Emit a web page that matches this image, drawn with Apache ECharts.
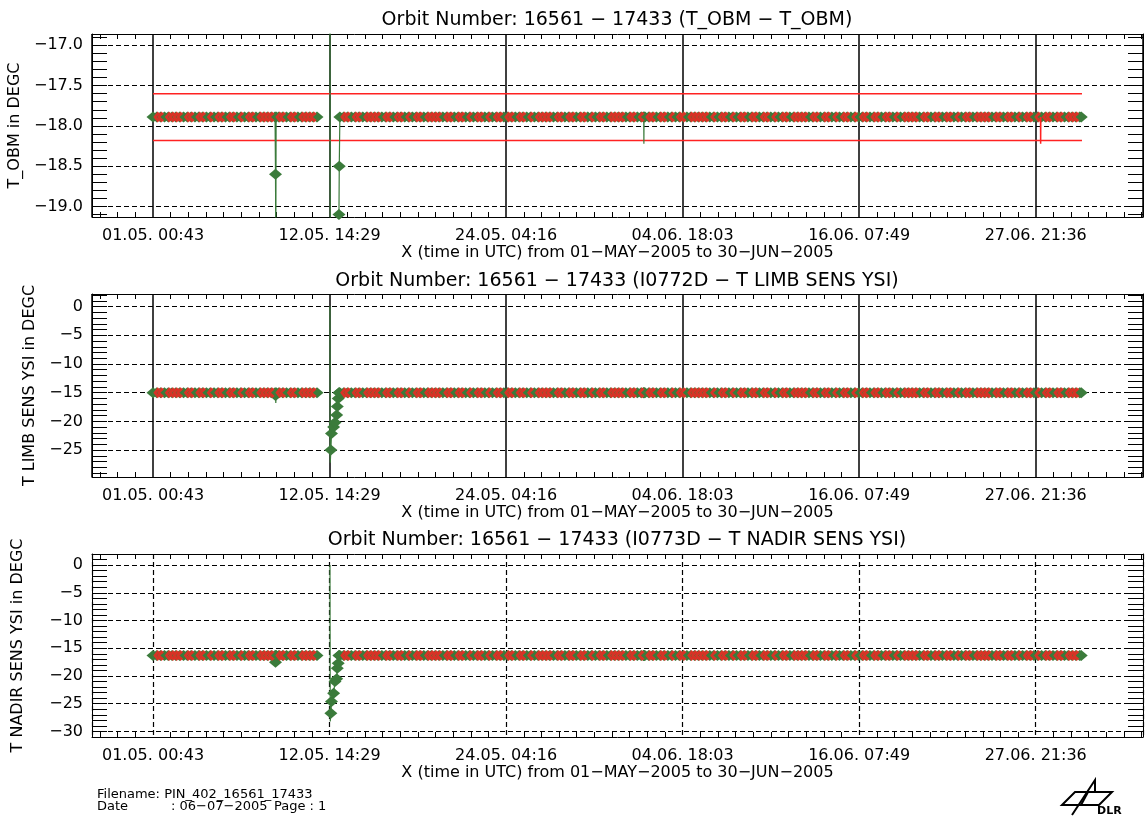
<!DOCTYPE html>
<html>
<head>
<meta charset="utf-8">
<title>Orbit Number 16561 − 17433 housekeeping temperatures</title>
<script src="https://cdn.jsdelivr.net/npm/echarts@6/dist/echarts.min.js"></script>
<style>
  html, body { margin: 0; padding: 0; background: #fff; }
  #chart { width: 1146px; height: 821px; }
</style>
</head>
<body>
<div id="chart"></div>
<script>
// ---------------------------------------------------------------------------
// Time axis: days since 01.05.2005 00:43 UTC. Major ticks every 11 d 13 h 46 m.
// ---------------------------------------------------------------------------
const TICK_DAYS = 11.5736;
const TICK_LABELS = ['01.05. 00:43', '12.05. 14:29', '24.05. 04:16', '04.06. 18:03', '16.06. 07:49', '27.06. 21:36'];

// Sample times (days since first orbit), shared by the three temperature channels
const orbitDay = [
  0.00, 0.25, 0.50, 0.75,
  1.00, 1.25, 1.50, 1.75,
  2.00, 2.25, 2.50, 2.75,
  3.00, 3.25, 3.50, 3.75,
  4.00, 4.25, 4.50, 4.75,
  5.00, 5.25, 5.50, 5.75,
  6.00, 6.25, 6.50, 6.75,
  7.00, 7.25, 7.50, 7.75,
  8.00, 8.03, 8.05, 8.07, 8.25, 8.50, 8.75,
  9.00, 9.25, 9.50, 9.75,
  10.00, 10.25, 10.50, 10.75,
  11.00, 11.60, 11.62, 11.66, 11.70, 11.84, 11.93,
  12.04, 12.08, 12.14, 12.19, 12.21, 12.25, 12.50, 12.75,
  13.00, 13.25, 13.50, 13.75,
  14.00, 14.25, 14.50, 14.75,
  15.00, 15.25, 15.50, 15.75,
  16.00, 16.25, 16.50, 16.75,
  17.00, 17.25, 17.50, 17.75,
  18.00, 18.25, 18.50, 18.75,
  19.00, 19.25, 19.50, 19.75,
  20.00, 20.25, 20.50, 20.75,
  21.00, 21.25, 21.50, 21.75,
  22.00, 22.25, 22.50, 22.75,
  23.00, 23.25, 23.50, 23.75,
  24.00, 24.25, 24.50, 24.75,
  25.00, 25.25, 25.50, 25.75,
  26.00, 26.25, 26.50, 26.75,
  27.00, 27.25, 27.50, 27.75,
  28.00, 28.25, 28.50, 28.75,
  29.00, 29.25, 29.50, 29.75,
  30.00, 30.25, 30.50, 30.75,
  31.00, 31.25, 31.50, 31.75,
  32.00, 32.17, 32.18, 32.19, 32.25, 32.50, 32.75,
  33.00, 33.25, 33.50, 33.75,
  34.00, 34.25, 34.50, 34.75,
  35.00, 35.25, 35.50, 35.75,
  36.00, 36.25, 36.50, 36.75,
  37.00, 37.25, 37.50, 37.75,
  38.00, 38.25, 38.50, 38.75,
  39.00, 39.25, 39.50, 39.75,
  40.00, 40.25, 40.50, 40.75,
  41.00, 41.25, 41.50, 41.75,
  42.00, 42.25, 42.50, 42.75,
  43.00, 43.25, 43.50, 43.75,
  44.00, 44.25, 44.50, 44.75,
  45.00, 45.25, 45.50, 45.75,
  46.00, 46.25, 46.50, 46.75,
  47.00, 47.25, 47.50, 47.75,
  48.00, 48.25, 48.50, 48.75,
  49.00, 49.25, 49.50, 49.75,
  50.00, 50.25, 50.50, 50.75,
  51.00, 51.25, 51.50, 51.75,
  52.00, 52.25, 52.50, 52.75,
  53.00, 53.25, 53.50, 53.75,
  54.00, 54.25, 54.50, 54.75,
  55.00, 55.25, 55.50, 55.75,
  56.00, 56.25, 56.50, 56.75,
  57.00, 57.25, 57.50, 57.75,
  58.00, 58.25, 58.50, 58.75,
  59.00, 59.25, 59.50, 59.75,
  60.00, 60.25, 60.50, 60.75, 60.85
];

// T_OBM [DEGC]; null = no telemetry
const tObm = [
  -17.89, -17.89, -17.89, -17.89,
  -17.89, -17.89, -17.89, -17.89,
  -17.89, -17.89, -17.89, -17.89,
  -17.89, -17.89, -17.89, -17.89,
  -17.89, -17.89, -17.89, -17.89,
  -17.89, -17.89, -17.89, -17.89,
  -17.89, -17.89, -17.89, -17.89,
  -17.89, -17.89, -17.89, -17.89,
  -17.89, -18.60, -19.60, -17.89, -17.89, -17.89, -17.89,
  -17.89, -17.89, -17.89, -17.89,
  -17.89, -17.89, -17.89, -17.89,
  null, -16.30, -19.80, null, null, null, null,
  null, null, null, -19.10, -18.50, -17.89, -17.89, -17.89,
  -17.89, -17.89, -17.89, -17.89,
  -17.89, -17.89, -17.89, -17.89,
  -17.89, -17.89, -17.89, -17.89,
  -17.89, -17.89, -17.89, -17.89,
  -17.89, -17.89, -17.89, -17.89,
  -17.89, -17.89, -17.89, -17.89,
  -17.89, -17.89, -17.89, -17.89,
  -17.89, -17.89, -17.89, -17.89,
  -17.89, -17.89, -17.89, -17.89,
  -17.89, -17.89, -17.89, -17.89,
  -17.89, -17.89, -17.89, -17.89,
  -17.89, -17.89, -17.89, -17.89,
  -17.89, -17.89, -17.89, -17.89,
  -17.89, -17.89, -17.89, -17.89,
  -17.89, -17.89, -17.89, -17.89,
  -17.89, -17.89, -17.89, -17.89,
  -17.89, -17.89, -17.89, -17.89,
  -17.89, -17.89, -17.89, -17.89,
  -17.89, -17.89, -17.89, -17.89,
  -17.89, -17.89, -18.22, -17.89, -17.89, -17.89, -17.89,
  -17.89, -17.89, -17.89, -17.89,
  -17.89, -17.89, -17.89, -17.89,
  -17.89, -17.89, -17.89, -17.89,
  -17.89, -17.89, -17.89, -17.89,
  -17.89, -17.89, -17.89, -17.89,
  -17.89, -17.89, -17.89, -17.89,
  -17.89, -17.89, -17.89, -17.89,
  -17.89, -17.89, -17.89, -17.89,
  -17.89, -17.89, -17.89, -17.89,
  -17.89, -17.89, -17.89, -17.89,
  -17.89, -17.89, -17.89, -17.89,
  -17.89, -17.89, -17.89, -17.89,
  -17.89, -17.89, -17.89, -17.89,
  -17.89, -17.89, -17.89, -17.89,
  -17.89, -17.89, -17.89, -17.89,
  -17.89, -17.89, -17.89, -17.89,
  -17.89, -17.89, -17.89, -17.89,
  -17.89, -17.89, -17.89, -17.89,
  -17.89, -17.89, -17.89, -17.89,
  -17.89, -17.89, -17.89, -17.89,
  -17.89, -17.89, -17.89, -17.89,
  -17.89, -17.89, -17.89, -17.89,
  -17.89, -17.89, -17.89, -17.89,
  -17.89, -17.89, -17.89, -17.89,
  -17.89, -17.89, -17.89, -17.89,
  -17.89, -17.89, -17.89, -17.89,
  -17.89, -17.89, -17.89, -17.89,
  -17.89, -17.89, -17.89, -17.89, -17.89
];

// I0772D T LIMB SENS YSI [DEGC]
const tLimb = [
  -15.0, -15.0, -15.0, -15.0,
  -15.0, -15.0, -15.0, -15.0,
  -15.0, -15.0, -15.0, -15.0,
  -15.0, -15.0, -15.0, -15.0,
  -15.0, -15.0, -15.0, -15.0,
  -15.0, -15.0, -15.0, -15.0,
  -15.0, -15.0, -15.0, -15.0,
  -15.0, -15.0, -15.0, -15.0,
  -15.0, -15.5, -16.8, -15.0, -15.0, -15.0, -15.0,
  -15.0, -15.0, -15.0, -15.0,
  -15.0, -15.0, -15.0, -15.0,
  null, 0.0, -27.2, -25.0, -22.1, -21.0, -20.2,
  -18.9, -17.4, -16.0, -15.0, -15.0, -15.0, -15.0, -15.0,
  -15.0, -15.0, -15.0, -15.0,
  -15.0, -15.0, -15.0, -15.0,
  -15.0, -15.0, -15.0, -15.0,
  -15.0, -15.0, -15.0, -15.0,
  -15.0, -15.0, -15.0, -15.0,
  -15.0, -15.0, -15.0, -15.0,
  -15.0, -15.0, -15.0, -15.0,
  -15.0, -15.0, -15.0, -15.0,
  -15.0, -15.0, -15.0, -15.0,
  -15.0, -15.0, -15.0, -15.0,
  -15.0, -15.0, -15.0, -15.0,
  -15.0, -15.0, -15.0, -15.0,
  -15.0, -15.0, -15.0, -15.0,
  -15.0, -15.0, -15.0, -15.0,
  -15.0, -15.0, -15.0, -15.0,
  -15.0, -15.0, -15.0, -15.0,
  -15.0, -15.0, -15.0, -15.0,
  -15.0, -15.0, -15.0, -15.0,
  -15.0, -15.0, -15.0, -15.0,
  -15.0, -15.0, -15.0, -15.0, -15.0, -15.0, -15.0,
  -15.0, -15.0, -15.0, -15.0,
  -15.0, -15.0, -15.0, -15.0,
  -15.0, -15.0, -15.0, -15.0,
  -15.0, -15.0, -15.0, -15.0,
  -15.0, -15.0, -15.0, -15.0,
  -15.0, -15.0, -15.0, -15.0,
  -15.0, -15.0, -15.0, -15.0,
  -15.0, -15.0, -15.0, -15.0,
  -15.0, -15.0, -15.0, -15.0,
  -15.0, -15.0, -15.0, -15.0,
  -15.0, -15.0, -15.0, -15.0,
  -15.0, -15.0, -15.0, -15.0,
  -15.0, -15.0, -15.0, -15.0,
  -15.0, -15.0, -15.0, -15.0,
  -15.0, -15.0, -15.0, -15.0,
  -15.0, -15.0, -15.0, -15.0,
  -15.0, -15.0, -15.0, -15.0,
  -15.0, -15.0, -15.0, -15.0,
  -15.0, -15.0, -15.0, -15.0,
  -15.0, -15.0, -15.0, -15.0,
  -15.0, -15.0, -15.0, -15.0,
  -15.0, -15.0, -15.0, -15.0,
  -15.0, -15.0, -15.0, -15.0,
  -15.0, -15.0, -15.0, -15.0,
  -15.0, -15.0, -15.0, -15.0,
  -15.0, -15.0, -15.0, -15.0,
  -15.0, -15.0, -15.0, -15.0,
  -15.0, -15.0, -15.0, -15.0, -15.0
];

// I0773D T NADIR SENS YSI [DEGC]
const tNadir = [
  -16.3, -16.3, -16.3, -16.3,
  -16.3, -16.3, -16.3, -16.3,
  -16.3, -16.3, -16.3, -16.3,
  -16.3, -16.3, -16.3, -16.3,
  -16.3, -16.3, -16.3, -16.3,
  -16.3, -16.3, -16.3, -16.3,
  -16.3, -16.3, -16.3, -16.3,
  -16.3, -16.3, -16.3, -16.3,
  -16.3, -17.5, -16.3, -16.3, -16.3, -16.3, -16.3,
  -16.3, -16.3, -16.3, -16.3,
  -16.3, -16.3, -16.3, -16.3,
  null, 0.0, -28.2, -26.7, -24.6, -23.1, -21.0,
  -20.5, -18.6, -17.7, -16.3, -16.3, -16.3, -16.3, -16.3,
  -16.3, -16.3, -16.3, -16.3,
  -16.3, -16.3, -16.3, -16.3,
  -16.3, -16.3, -16.3, -16.3,
  -16.3, -16.3, -16.3, -16.3,
  -16.3, -16.3, -16.3, -16.3,
  -16.3, -16.3, -16.3, -16.3,
  -16.3, -16.3, -16.3, -16.3,
  -16.3, -16.3, -16.3, -16.3,
  -16.3, -16.3, -16.3, -16.3,
  -16.3, -16.3, -16.3, -16.3,
  -16.3, -16.3, -16.3, -16.3,
  -16.3, -16.3, -16.3, -16.3,
  -16.3, -16.3, -16.3, -16.3,
  -16.3, -16.3, -16.3, -16.3,
  -16.3, -16.3, -16.3, -16.3,
  -16.3, -16.3, -16.3, -16.3,
  -16.3, -16.3, -16.3, -16.3,
  -16.3, -16.3, -16.3, -16.3,
  -16.3, -16.3, -16.3, -16.3,
  -16.3, -16.3, -16.3, -16.3, -16.3, -16.3, -16.3,
  -16.3, -16.3, -16.3, -16.3,
  -16.3, -16.3, -16.3, -16.3,
  -16.3, -16.3, -16.3, -16.3,
  -16.3, -16.3, -16.3, -16.3,
  -16.3, -16.3, -16.3, -16.3,
  -16.3, -16.3, -16.3, -16.3,
  -16.3, -16.3, -16.3, -16.3,
  -16.3, -16.3, -16.3, -16.3,
  -16.3, -16.3, -16.3, -16.3,
  -16.3, -16.3, -16.3, -16.3,
  -16.3, -16.3, -16.3, -16.3,
  -16.3, -16.3, -16.3, -16.3,
  -16.3, -16.3, -16.3, -16.3,
  -16.3, -16.3, -16.3, -16.3,
  -16.3, -16.3, -16.3, -16.3,
  -16.3, -16.3, -16.3, -16.3,
  -16.3, -16.3, -16.3, -16.3,
  -16.3, -16.3, -16.3, -16.3,
  -16.3, -16.3, -16.3, -16.3,
  -16.3, -16.3, -16.3, -16.3,
  -16.3, -16.3, -16.3, -16.3,
  -16.3, -16.3, -16.3, -16.3,
  -16.3, -16.3, -16.3, -16.3,
  -16.3, -16.3, -16.3, -16.3,
  -16.3, -16.3, -16.3, -16.3,
  -16.3, -16.3, -16.3, -16.3,
  -16.3, -16.3, -16.3, -16.3,
  -16.3, -16.3, -16.3, -16.3, -16.3
];

// Samples drawn as line only (no marker)
const obmLineOnlyDays = [32.18];
const limbLineOnlyDays = [8.05, 11.60, 11.62];
const nadirLineOnlyDays = [11.60, 11.62];

// Flagged orbits, marked with red chevrons on every channel
const flagDays = [
  0.25, 0.50, 1.00, 1.25, 1.50, 1.75, 2.25, 2.50, 3.00, 3.25, 3.75, 4.25, 4.50, 5.00, 5.25, 5.75,
  6.25, 6.50, 7.00, 7.25, 7.50, 7.75, 8.25, 8.50, 9.00, 9.25, 9.75, 10.00, 10.25, 10.50,
  12.50, 12.75, 13.25, 13.50, 14.00, 14.25, 14.50, 14.75, 15.25, 15.50, 16.00, 16.25, 16.75,
  17.25, 17.50, 18.00, 18.25, 18.50, 18.75, 19.25, 19.50, 20.00, 20.25, 20.75, 21.25, 21.50,
  22.00, 22.50, 22.75, 23.25, 23.50, 24.00, 24.25, 24.75, 25.25, 25.50, 25.75, 26.00, 26.50,
  26.75, 27.25, 27.50, 28.00, 28.25, 28.75, 29.25, 29.50, 30.00, 30.25, 30.50, 30.75, 31.25,
  31.50, 32.00, 32.50, 32.75, 33.25, 33.50, 34.00, 34.50, 34.75, 35.25, 35.50, 35.75, 36.00,
  36.25, 36.75, 37.25, 37.50, 38.00, 38.50, 38.75, 39.25, 39.50, 40.00, 40.25, 40.75,
  41.25, 41.50, 42.00, 42.25, 42.50, 42.75, 43.25, 43.50, 44.00, 44.25, 44.75, 45.25, 45.50,
  46.00, 46.50, 46.75, 47.25, 47.50, 48.00, 48.25, 48.75, 49.25, 49.50, 49.75, 50.00, 50.50,
  50.75, 51.25, 51.50, 52.00, 52.25, 52.75, 53.25, 53.50, 54.00, 54.25, 54.50, 54.75, 55.25,
  55.50, 56.00, 56.25, 56.75, 57.25, 57.50, 58.00, 58.50, 58.75, 59.25, 59.50, 60.00,
  60.25, 60.50
];

// T_OBM limits [DEGC]
const obmLimitDays = [0.0, 60.9];
const obmUpperLimit = [-17.6, -17.6];
const obmLowerLimit = [-18.18, -18.18];

// Red T_OBM excursion near 27.06
const obmRedDipDays = [58.18, 58.19, 58.20];
const obmRedDipValues = [-17.89, -18.22, -17.89];

// ---------------------------------------------------------------------------
const FONT = 'DejaVu Sans';
const GREEN = '#3b7b3b';
const RED = '#ff2222';
const BLACK = '#000';
const X_MIN = -4.0, X_MAX = 64.9;
const X_NAME = 'X (time in UTC) from 01\u2212MAY\u22122005 to 30\u2212JUN\u22122005';
const CHEVRON = 'path://M6,0 L10,2 L4.6,5 L10,8 L6,10 L0,5 Z';

function tickLabel(v) {
  const k = Math.round(v / TICK_DAYS);
  if (Math.abs(v - k * TICK_DAYS) > 1e-3 || k < 0 || k >= TICK_LABELS.length) return '';
  return TICK_LABELS[k];
}
function fmtY(digits) {
  return v => {
    const a = Math.abs(v);
    const s = digits ? a.toFixed(digits) : String(Math.round(a));
    return (v < -1e-9 ? '\u2212' : '') + s;
  };
}

const panels = [
  { values: tObm, lineOnly: obmLineOnlyDays, top: 34, yMin: -19.13, yMax: -16.86, yStep: 0.5, digits: 1,
    yName: 'T_OBM in DEGC', nameGap: 67, vType: 'solid', vWidth: 1.5,
    title: 'Orbit Number: 16561 \u2212 17433 (T_OBM \u2212 T_OBM)', titleY: 20 },
  { values: tLimb, lineOnly: limbLineOnlyDays, top: 294, yMin: -29.7, yMax: 2.2, yStep: 5, digits: 0,
    yName: 'T LIMB SENS YSI in DEGC', nameGap: 49, vType: 'solid', vWidth: 1.5,
    title: 'Orbit Number: 16561 \u2212 17433 (I0772D \u2212 T LIMB SENS YSI)', titleY: 281 },
  { values: tNadir, lineOnly: nadirLineOnlyDays, top: 554, yMin: -31, yMax: 2, yStep: 5, digits: 0,
    yName: 'T NADIR SENS YSI in DEGC', nameGap: 66, vType: [5, 3], vWidth: 1.2,
    title: 'Orbit Number: 16561 \u2212 17433 (I0773D \u2212 T NADIR SENS YSI)', titleY: 540 }
];

const grid = [], xAxis = [], yAxis = [], series = [], graphic = [];
const axisText = { color: BLACK, fontSize: 16, fontFamily: FONT };

panels.forEach((p, g) => {
  grid.push({ left: 92, right: 3, top: p.top, height: 183, containLabel: false, outerBoundsMode: 'none' });

  ['bottom', 'top'].forEach(pos => {
    const main = pos === 'bottom';
    xAxis.push({
      type: 'value', gridIndex: g, position: pos, min: X_MIN, max: X_MAX,
      minInterval: TICK_DAYS, maxInterval: TICK_DAYS, splitNumber: 6,
      axisLine: { show: true, onZero: false, lineStyle: { color: BLACK, width: 1 } },
      axisTick: { show: false, inside: true },
      minorTick: { show: true, splitNumber: 10, length: 5, lineStyle: { color: BLACK, width: 1 } },
      axisLabel: Object.assign({ show: main, margin: 11, showMinLabel: false, showMaxLabel: false,
        formatter: tickLabel }, axisText),
      splitLine: { show: main, lineStyle: { color: BLACK, width: p.vWidth, type: p.vType } },
      name: main ? X_NAME : '', nameLocation: 'middle', nameGap: 27,
      nameTextStyle: axisText
    });
  });

  ['left', 'right'].forEach(pos => {
    const main = pos === 'left';
    yAxis.push({
      type: 'value', gridIndex: g, position: pos, min: p.yMin, max: p.yMax,
      minInterval: p.yStep, maxInterval: p.yStep,
      axisLine: { show: true, onZero: false, lineStyle: { color: BLACK, width: 1 } },
      axisTick: { show: true, inside: true, length: 15, lineStyle: { color: BLACK, width: 1 } },
      minorTick: { show: true, splitNumber: 5, length: 15, lineStyle: { color: BLACK, width: 1 } },
      axisLabel: Object.assign({ show: main, margin: 9, showMinLabel: false, showMaxLabel: false,
        formatter: fmtY(p.digits) }, axisText),
      splitLine: { show: main, lineStyle: { color: BLACK, width: 1, type: [5, 3] } },
      name: main ? p.yName : '', nameLocation: 'middle', nameGap: p.nameGap,
      nameTextStyle: axisText
    });
  });

  const xi = 2 * g, yi = 2 * g;
  const data = orbitDay.map((d, i) => {
    const v = p.values[i];
    if (v === null || v === undefined) return [d, '-'];
    if (p.lineOnly.indexOf(d) >= 0) return { value: [d, v], symbol: 'none' };
    return [d, v];
  });
  series.push({
    type: 'line', xAxisIndex: xi, yAxisIndex: yi, data: data, z: 3,
    symbol: 'diamond', symbolSize: [13, 11], showAllSymbol: true, connectNulls: false,
    itemStyle: { color: GREEN }, lineStyle: { color: GREEN, width: 1.2 },
    clip: true, silent: true, animation: false
  });
  series.push({
    type: 'scatter', xAxisIndex: xi, yAxisIndex: yi, z: 4,
    data: flagDays.map(d => [d, p.values[orbitDay.indexOf(d)]]),
    symbol: CHEVRON, symbolSize: [7, 11], symbolKeepAspect: false,
    itemStyle: { color: RED }, clip: true, silent: true, animation: false
  });

  if (g === 0) {
    [obmUpperLimit, obmLowerLimit].forEach(lim => {
      series.push({
        type: 'line', xAxisIndex: xi, yAxisIndex: yi, z: 2,
        data: obmLimitDays.map((d, i) => [d, lim[i]]),
        symbol: 'none', lineStyle: { color: RED, width: 1.5 }, silent: true, animation: false
      });
    });
    series.push({
      type: 'line', xAxisIndex: xi, yAxisIndex: yi, z: 5,
      data: obmRedDipDays.map((d, i) => [d, obmRedDipValues[i]]),
      symbol: 'none', lineStyle: { color: RED, width: 1.5 }, silent: true, animation: false
    });
  }

  graphic.push({
    type: 'text', x: 617, y: p.titleY, silent: true,
    style: { text: p.title, fill: BLACK, font: '19px "' + FONT + '"', align: 'center', verticalAlign: 'middle' }
  });
});

// Footer: file information
const footFont = '13px "' + FONT + '"';
graphic.push(
  { type: 'text', x: 97, y: 795, silent: true,
    style: { text: 'Filename: PIN_402_16561_17433', fill: BLACK, font: footFont, align: 'left', verticalAlign: 'middle' } },
  { type: 'text', x: 97, y: 807, silent: true,
    style: { text: 'Date', fill: BLACK, font: footFont, align: 'left', verticalAlign: 'middle' } },
  { type: 'text', x: 171, y: 807, silent: true,
    style: { text: ': 06\u221207\u22122005', fill: BLACK, font: footFont, align: 'left', verticalAlign: 'middle' } },
  { type: 'text', x: 274, y: 807, silent: true,
    style: { text: 'Page : 1', fill: BLACK, font: footFont, align: 'left', verticalAlign: 'middle' } }
);

// DLR emblem
graphic.push(
  { type: 'polygon', silent: true,
    shape: { points: [[1062, 805], [1075, 792], [1112, 792], [1099, 805]] },
    style: { fill: 'none', stroke: BLACK, lineWidth: 2 } },
  { type: 'polyline', silent: true,
    shape: { points: [[1072, 815], [1095, 780], [1095, 792]] },
    style: { fill: 'none', stroke: BLACK, lineWidth: 2 } },
  { type: 'polyline', silent: true,
    shape: { points: [[1088, 792], [1081, 805]] },
    style: { fill: 'none', stroke: BLACK, lineWidth: 2 } },
  { type: 'text', x: 1097, y: 811, silent: true,
    style: { text: 'DLR', fill: BLACK, font: 'bold 11px "' + FONT + '"', align: 'left', verticalAlign: 'middle' } }
);

const chart = echarts.init(document.getElementById('chart'), null, { renderer: 'canvas' });
chart.setOption({
  animation: false,
  backgroundColor: '#fff',
  textStyle: { fontFamily: FONT },
  grid: grid, xAxis: xAxis, yAxis: yAxis, series: series, graphic: graphic
});
</script>
</body>
</html>
